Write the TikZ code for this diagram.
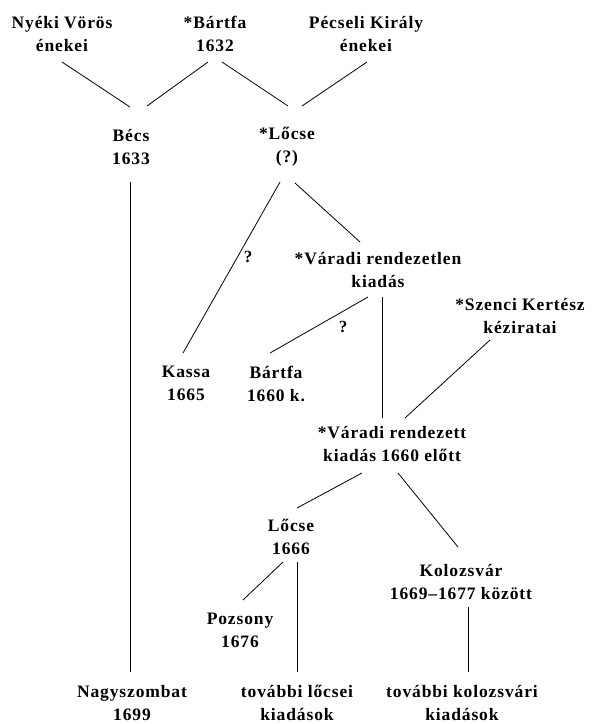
\documentclass[tikz,border=0pt]{standalone}
\usepackage{fontspec}
\setmainfont{Liberation Serif}[LetterSpace=5]
\begin{document}
\begin{tikzpicture}[x=1pt,y=1pt,
  lbl/.style={align=center,inner sep=0pt,font=\bfseries\fontsize{17.5}{23}\selectfont},
  qm/.style={inner sep=0pt,font=\bfseries\fontsize{17}{20}\selectfont},
  conn/.style={line width=0.8pt}]
\useasboundingbox (0,0) rectangle (599,-724);
% nodes
\node[lbl] (nyeki) at (62,-33.5) {Nyéki Vörös\\énekei};
\node[lbl] (bartfa32) at (215,-33.5) {*Bártfa\\1632};
\node[lbl] (pecseli) at (366,-33.5) {Pécseli Király\\énekei};
\node[lbl] (becs) at (131,-147) {Bécs\\1633};
\node[lbl] (locse) at (287,-147) {*Lőcse\\(?)};
\node[lbl] (varadi1) at (378,-269.5) {*Váradi rendezetlen\\kiadás};
\node[lbl] (szenci) at (520,-316) {*Szenci Kertész\\kéziratai};
\node[lbl] (kassa) at (186,-383.5) {Kassa\\1665};
\node[lbl] (bartfa60) at (276,-383.5) {Bártfa\\1660 k.};
\node[lbl] (varadi2) at (392,-443.5) {*Váradi rendezett\\kiadás 1660 előtt};
\node[lbl] (locse66) at (291,-537) {Lőcse\\1666};
\node[lbl] (kolozsvar) at (461,-582) {Kolozsvár\\1669--1677 között};
\node[lbl] (pozsony) at (240,-630.5) {Pozsony\\1676};
\node[lbl] (nagyszombat) at (132,-703) {Nagyszombat\\1699};
\node[lbl] (locsei) at (297,-703) {további lőcsei\\kiadások};
\node[lbl] (kolozsvari) at (462,-703) {további kolozsvári\\kiadások};
\node[qm] (q1) at (248,-257) {?};
\node[qm] (q2) at (343,-327) {?};
% connectors
\draw[conn] ([shift={(0,-28.5)}]nyeki.center) -- ([shift={(-1,40)}]becs.center);
\draw[conn] ([shift={(-7,-28.5)}]bartfa32.center) -- ([shift={(16,41)}]becs.center);
\draw[conn] ([shift={(7,-28.5)}]bartfa32.center) -- ([shift={(1,41)}]locse.center);
\draw[conn] ([shift={(1,-28.5)}]pecseli.center) -- ([shift={(15,41)}]locse.center);
\draw[conn] ([shift={(-1,-35)}]becs.center) -- ([shift={(-2,31)}]nagyszombat.center);
\draw[conn] ([shift={(-7,-35)}]locse.center) -- ([shift={(-3,30.5)}]kassa.center);
\draw[conn] ([shift={(8,-36)}]locse.center) -- ([shift={(-18,27.5)}]varadi1.center);
\draw[conn] ([shift={(-10,-27.5)}]varadi1.center) -- ([shift={(-6,30.5)}]bartfa60.center);
\draw[conn] ([shift={(4,-27.5)}]varadi1.center) -- ([shift={(-10,25.5)}]varadi2.center);
\draw[conn] ([shift={(-30,-24)}]szenci.center) -- ([shift={(13,25.5)}]varadi2.center);
\draw[conn] ([shift={(-30,-29.5)}]varadi2.center) -- ([shift={(6,29)}]locse66.center);
\draw[conn] ([shift={(6,-29.5)}]varadi2.center) -- ([shift={(-3,35)}]kolozsvar.center);
\draw[conn] ([shift={(-8,-25)}]locse66.center) -- ([shift={(3,30.5)}]pozsony.center);
\draw[conn] ([shift={(6,-25)}]locse66.center) -- ([shift={(0,31)}]locsei.center);
\draw[conn] ([shift={(7,-25)}]kolozsvar.center) -- ([shift={(6,31)}]kolozsvari.center);
\end{tikzpicture}
\end{document}
